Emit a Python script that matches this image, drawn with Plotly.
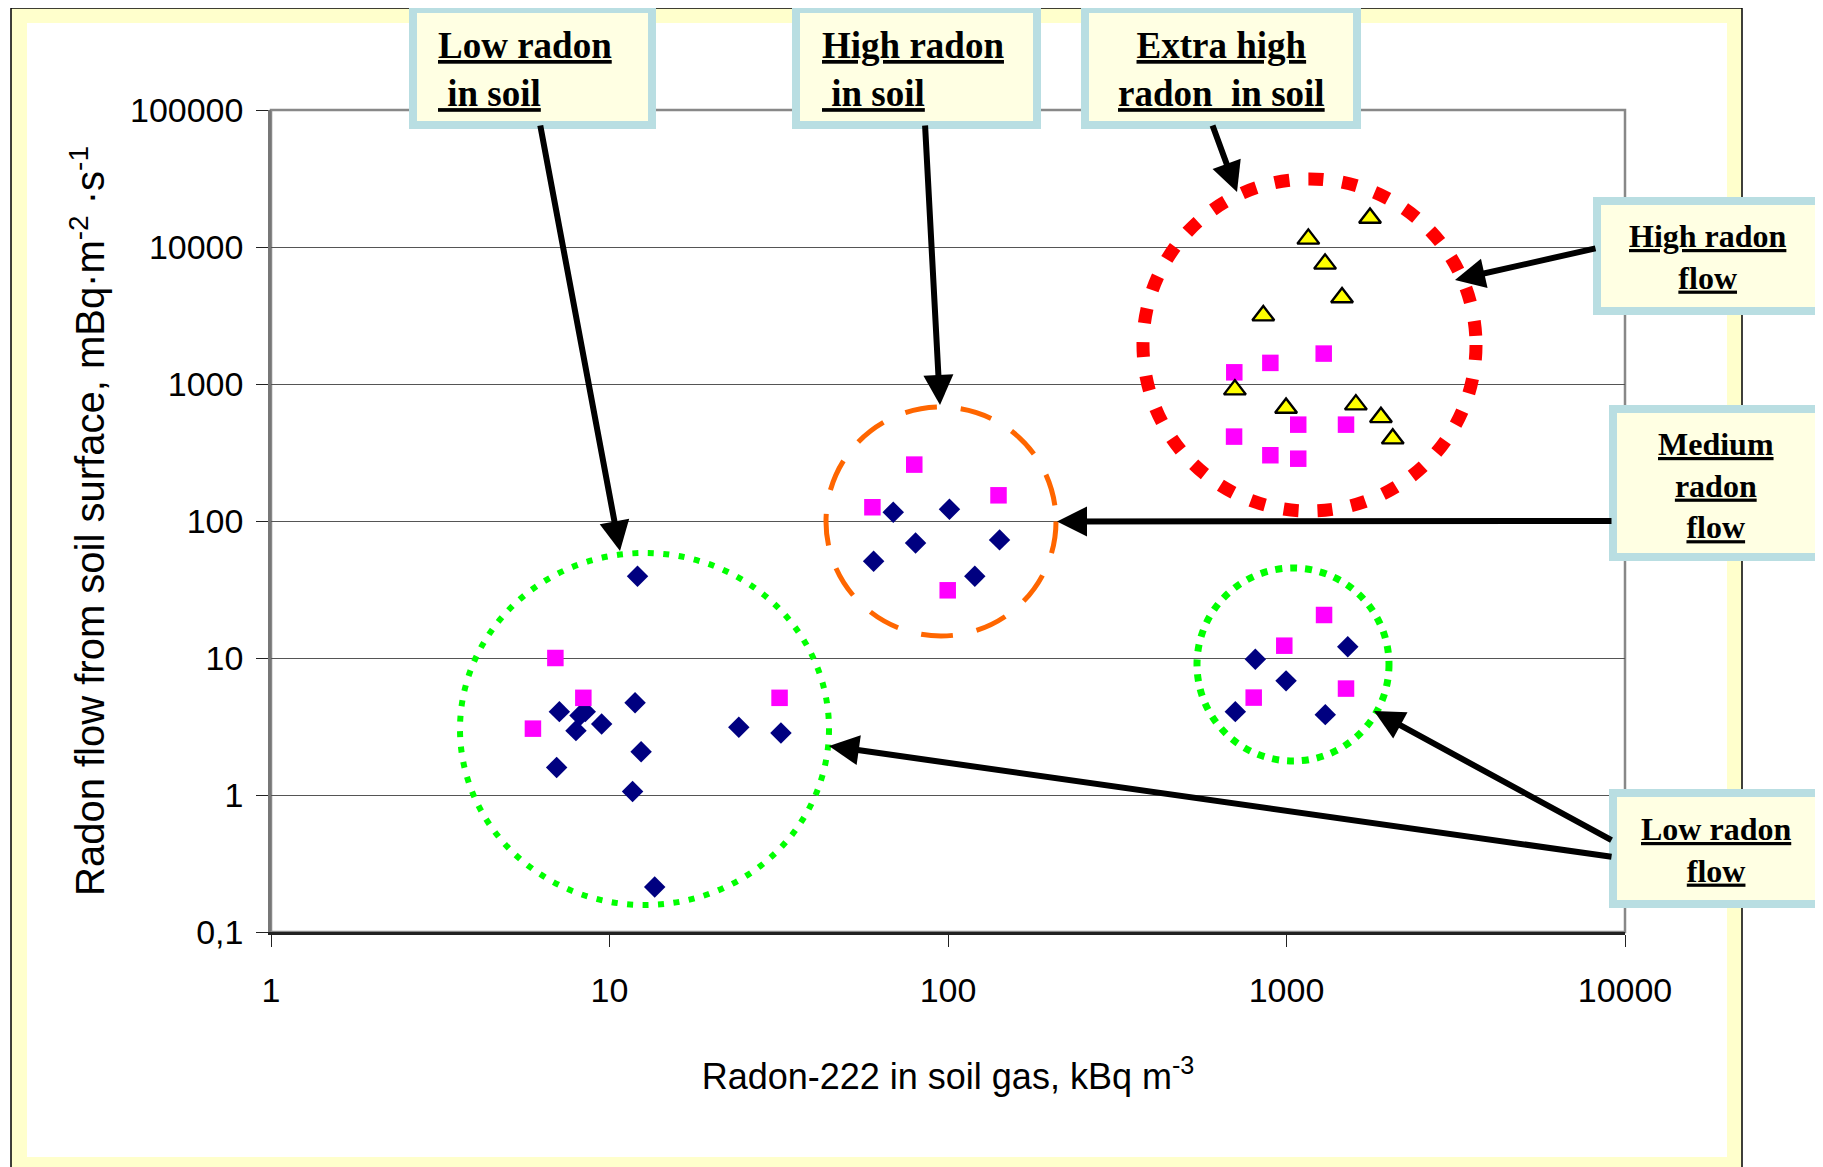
import plotly.graph_objects as go

# ---------------- data ----------------
diamond_x = [12.1, 11.9, 7.11, 8.18, 8.48, 7.96, 9.48, 6.98, 12.4, 11.7, 13.6, 24.1, 32.1,
             68.9, 101, 80.2, 142, 60.3, 120,
             809, 1517, 997, 706, 1302]
diamond_y = [39.5, 4.72, 4.06, 3.80, 4.06, 2.95, 3.30, 1.59, 2.07, 1.06, 0.213, 3.12, 2.84,
             116, 122, 69.2, 72.8, 50.8, 39.5,
             9.8, 12.1, 6.81, 4.06, 3.86]
square_x = [6.92, 8.37, 5.94, 31.8,
            79.5, 59.8, 141, 99.8,
            1288, 896, 701, 1083, 1499, 700, 896, 1083,
            1291, 985, 1499, 800]
square_y = [10.0, 5.12, 3.05, 5.12,
            258, 126, 154, 31.2,
            1667, 1426, 1217, 505, 505, 413, 302, 285,
            20.6, 12.3, 5.98, 5.14]
triangle_x = [1765, 1160, 1300, 1459, 854, 704, 997, 1603, 1901, 2060]
triangle_y = [16300, 11460, 7530, 4276, 3158, 910, 668, 707, 571, 399]

x_tickvals = [1, 10, 100, 1000, 10000]
x_ticktext = ["1", "10", "100", "1000", "10000"]
y_tickvals = [0.1, 1, 10, 100, 1000, 10000, 100000]
y_ticktext = ["0,1", "1", "10", "100", "1000", "10000", "100000"]

x_title = "Radon-222 in soil gas, kBq m<sup>-3</sup>"
y_title = "Radon flow from soil surface, mBq·m<sup>-2</sup> ·s<sup>-1</sup>"

box_texts = {
    "low_soil": "<b><u>Low radon</u></b><br><b><u> in soil</u></b>",
    "high_soil": "<b><u>High radon</u></b><br><b><u> in soil</u></b>",
    "extra_soil": "<b><u>Extra high</u></b><br><b><u>radon  in soil</u></b>",
    "high_flow": "<b><u>High radon</u></b><br><b><u>flow</u></b>",
    "medium_flow": "<b><u>Medium</u></b><br><b><u>radon</u></b><br><b><u>flow</u></b>",
    "low_flow": "<b><u>Low radon</u></b><br><b><u>flow</u></b>",
}

# ---------------- layout geometry (page pixels) ----------------
OFF = 8                      # the page body margin offsets the figure
W, H = 1823 - OFF, 1167 - OFF
L, R, T, B = 271 - OFF, 1625 - OFF, 110 - OFF, 932 - OFF
PW, PH = R - L, B - T


def fx(p):
    return (p - OFF - L) / PW


def fy(p):
    return (B - (p - OFF)) / PH


SANS = "Liberation Sans, Arial, sans-serif"
SERIF = "Liberation Serif, Times New Roman, serif"
BOX_FILL = "#FFFFE3"
BOX_LINE = "#B9DEE2"

fig = go.Figure()
fig.add_trace(go.Scatter(x=diamond_x, y=diamond_y, mode="markers",
                         marker=dict(symbol="diamond", size=16.5, color="#000080",
                                     line=dict(width=0))))
fig.add_trace(go.Scatter(x=square_x, y=square_y, mode="markers",
                         marker=dict(symbol="square", size=16.5, color="#FF00FF",
                                     line=dict(width=0))))
fig.add_trace(go.Scatter(x=triangle_x, y=triangle_y, mode="markers",
                         marker=dict(symbol="triangle-up", size=19, color="#FFFF00",
                                     line=dict(width=2.4, color="black"))))

shapes = []
# chart frame: black outline, pale yellow band, white inner area
shapes.append(dict(type="rect", xref="paper", yref="paper", layer="below",
                   x0=fx(11), x1=fx(1742), y0=fy(8), y1=fy(1180),
                   line=dict(color="black", width=1.5), fillcolor="#FFFFCC"))
shapes.append(dict(type="rect", xref="paper", yref="paper", layer="below",
                   x0=fx(27), x1=fx(1727), y0=fy(23), y1=fy(1157),
                   line=dict(width=0), fillcolor="white"))
# plot area border (gray)
shapes.append(dict(type="rect", xref="paper", yref="paper", layer="below",
                   x0=0, x1=1, y0=0, y1=1,
                   line=dict(color="#888888", width=2.5), fillcolor="rgba(0,0,0,0)"))


def ellipse(x0, x1, y0, y1, color, width, dash):
    return dict(type="circle", xref="paper", yref="paper", layer="above",
                x0=fx(x0), x1=fx(x1), y0=fy(y1), y1=fy(y0),
                line=dict(color=color, width=width, dash=dash),
                fillcolor="rgba(0,0,0,0)")


shapes.append(ellipse(460, 829, 553, 905, "#00FF00", 6, "6px,9.5px"))
shapes.append(ellipse(826, 1056, 407, 636, "#FF6600", 5, "32px,24px"))
shapes.append(ellipse(1143, 1476, 179, 511, "#FF0000", 13, "15px,19px"))
shapes.append(ellipse(1197, 1389, 568, 761, "#00FF00", 7, "7px,8px"))

# label boxes (outer pixel extents)
boxes = {
    "low_soil": (409, 656, 5, 129),
    "high_soil": (792, 1041, 5, 129),
    "extra_soil": (1081, 1361, 5, 129),
    "high_flow": (1593, 1826, 197, 315),
    "medium_flow": (1609, 1826, 405, 561),
    "low_flow": (1609, 1826, 789, 908),
}
BW = 8
for key, (x0, x1, y0, y1) in boxes.items():
    shapes.append(dict(type="rect", xref="paper", yref="paper", layer="above",
                       x0=fx(x0 + BW / 2), x1=fx(x1 - BW / 2),
                       y0=fy(y1 - BW / 2), y1=fy(y0 + BW / 2),
                       line=dict(color=BOX_LINE, width=BW), fillcolor=BOX_FILL))

annotations = []
text_pos = {
    "low_soil": (436, 69, "left", 37),
    "high_soil": (820, 69, "left", 37),
    "extra_soil": (1221, 69, "center", 37),
    "high_flow": (1708, 257, "center", 32),
    "medium_flow": (1716, 485, "center", 32),
    "low_flow": (1716, 850, "center", 32),
}
for key, (px_, py_, xa, fs) in text_pos.items():
    annotations.append(dict(xref="paper", yref="paper", x=fx(px_), y=fy(py_),
                            xanchor=xa, yanchor="middle", showarrow=False,
                            align="left" if xa == "left" else "center",
                            text=box_texts[key],
                            font=dict(family=SERIF, size=fs, color="black")))

# arrows: (tail_x, tail_y, tip_x, tip_y)
arrows = [
    (540, 124, 620, 551),
    (925, 124, 940, 405),
    (1212, 124, 1237, 192),
    (1597, 248, 1455, 280),
    (1613, 521, 1057, 521.5),
    (1613, 841, 1374, 711),
    (1613, 857, 829, 746),
]
for tx, ty, hx, hy in arrows:
    annotations.append(dict(xref="paper", yref="paper", x=fx(hx), y=fy(hy),
                            ax=tx - hx, ay=ty - hy, axref="pixel", ayref="pixel",
                            text="", showarrow=True, arrowhead=2, arrowsize=1.0,
                            arrowwidth=6, arrowcolor="black", standoff=0))

fig.update_layout(
    width=W, height=H,
    margin=dict(l=L, r=W - R, t=T, b=H - B, autoexpand=False),
    paper_bgcolor="white",
    plot_bgcolor="rgba(0,0,0,0)",
    showlegend=False,
    shapes=shapes,
    annotations=annotations,
    font=dict(family=SANS, color="black"),
    xaxis=dict(type="log", range=[0, 4], tickvals=x_tickvals, ticktext=x_ticktext,
               ticks="outside", ticklen=12, tickwidth=1, tickcolor="#222",
               ticklabelstandoff=14,
               tickfont=dict(family=SANS, size=34, color="black"),
               showgrid=False, zeroline=False,
               showline=True, linecolor="#222", linewidth=2.5,
               title=dict(text=x_title, font=dict(family=SANS, size=36, color="black"),
                          standoff=57),
               automargin=False),
    yaxis=dict(type="log", range=[-1, 5], tickvals=y_tickvals, ticktext=y_ticktext,
               ticks="outside", ticklen=12, tickwidth=1, tickcolor="#222",
               ticklabelstandoff=6,
               tickfont=dict(family=SANS, size=34, color="black"),
               showgrid=True, gridcolor="#555555", gridwidth=1.3, zeroline=False,
               showline=True, linecolor="#777777", linewidth=2.5,
               title=dict(text=y_title, font=dict(family=SANS, size=40, color="black"),
                          standoff=13),
               automargin=False),
)

fig.write_html("out.html")
